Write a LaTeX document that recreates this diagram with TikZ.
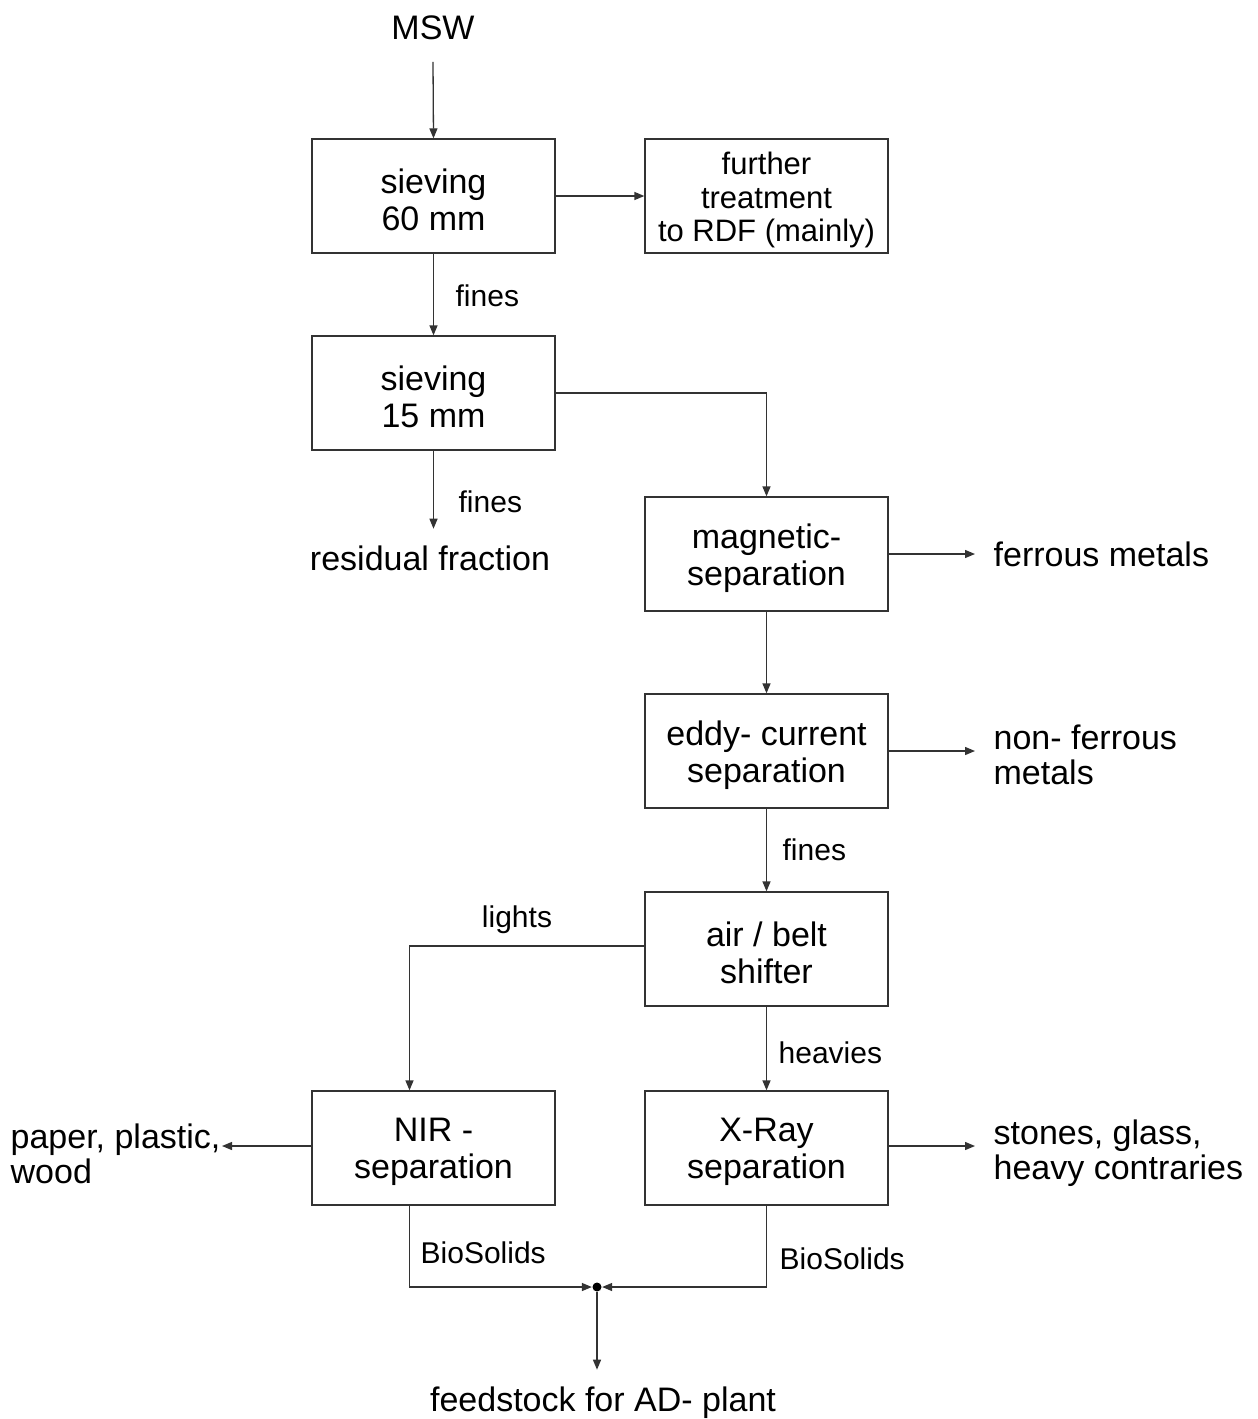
\documentclass[tikz,border=0pt]{standalone}
\usepackage{fontspec}
\setmainfont{Liberation Sans}
\usetikzlibrary{arrows.meta}
\begin{document}
\begin{tikzpicture}[x=1pt,y=-1pt,
  line width=1.3pt,
  box/.style={draw=black!80, minimum width=243pt, minimum height=114pt, inner sep=0pt,
    label={[boxtxt]center:#1}},
  boxtxt/.style={align=center, inner sep=0pt, yshift=-4pt, font=\fontsize{34}{37.5}\selectfont},
  smalltxt/.style={align=center, inner sep=0pt, yshift=-4pt, font=\fontsize{31}{33.5}\selectfont},
  smallbox/.style={draw=black!80, minimum width=243pt, minimum height=114pt, inner sep=0pt,
    label={[smalltxt]center:#1}},
  big/.style={font=\fontsize{34}{36.5}\selectfont, inner sep=0pt},
  lbl/.style={font=\fontsize{30}{32}\selectfont, inner sep=0pt},
  side/.style={font=\fontsize{34}{35}\selectfont, inner xsep=18pt, inner ysep=0pt, anchor=west, align=left},
  arr/.style={draw=black!80, -{Triangle[length=10pt,width=8pt]}},
]
\useasboundingbox[fill=white] (0,0) rectangle (1258,1419);

% boxes
\node[box={sieving\\60 mm}] (s60) at (433.5,196) {};
\node[smallbox={further\\treatment\\to RDF (mainly)}] (ft)  at (766.5,196) {};
\node[box={sieving\\15 mm}] (s15) at (433.5,393) {};
\node[box={magnetic-\\separation}] (mag) at (766.5,554) {};
\node[box={eddy- current\\separation}] (ec)  at (766.5,751) {};
\node[box={air / belt\\shifter}] (air) at (766.5,949) {};
\node[box={NIR -\\separation}] (nir) at (433.5,1148) {};
\node[box={X-Ray\\separation}] (xr)  at (766.5,1148) {};

% terminal texts
\node[big, anchor=base, inner ysep=22pt] (msw) at (433,39) {MSW};
\node[big, anchor=base, inner ysep=16pt] (res) at (430,570) {residual fraction};
\node[big, anchor=base, inner ysep=16pt] (feed) at (603,1411) {feedstock for AD- plant};
\node[side] (fer) at (975,554) {ferrous metals};
\node[side] (nfer) at (975,755) {non- ferrous\\metals};
\node[side] (stones) at (975,1153) {stones, glass,\\heavy contraries};
\node[side, inner xsep=0pt] (paper) at (10,1154) {paper, plastic,\\wood};
\coordinate (pe) at (222,1150);

% junction
\node[circle, fill=black, inner sep=0pt, minimum size=9pt] (j) at (597,1287) {};

% connectors
\draw[arr] (msw.south) -- (s60.north);
\draw[arr] (s60.east) -- (ft.west);
\draw[arr] (s60.south) -- (s15.north);
\draw[arr] (s15.east) -| (mag.north);
\draw[arr] (s15.south) -- (s15.south |- res.north);
\draw[arr] (mag.south) -- (ec.north);
\draw[arr] (mag.east) -- (mag.east -| fer.west);
\draw[arr] (ec.east) -- (ec.east -| nfer.west);
\draw[arr] (ec.south) -- (air.north);
\draw[arr] ([yshift=3pt]air.west) -| ([xshift=-24pt]nir.north);
\draw[arr] (air.south) -- (xr.north);
\draw[arr] ([yshift=2pt]nir.west) -- ([yshift=2pt]nir.west -| pe);
\draw[arr] ([yshift=2pt]xr.east) -- ([yshift=2pt]xr.east -| stones.west);
\draw[arr] ([xshift=-24pt]nir.south) |- (j);
\draw[arr] (xr.south) |- (j);
\draw[arr] (j) -- (j |- feed.north);

% labels
\node[lbl, anchor=west] (l1) at (455,296) {fines};
\node[lbl, anchor=west] (l2) at (458,502) {fines};
\node[lbl, anchor=west] (l3) at (782,850) {fines};
\node[lbl] (l4) at (517,920) {lights};
\node[lbl, anchor=west] (l5) at (778,1053) {heavies};
\node[lbl, anchor=west] (l6) at (420,1253) {BioSolids};
\node[lbl, anchor=west] (l7) at (779,1259) {BioSolids};
\end{tikzpicture}
\end{document}
